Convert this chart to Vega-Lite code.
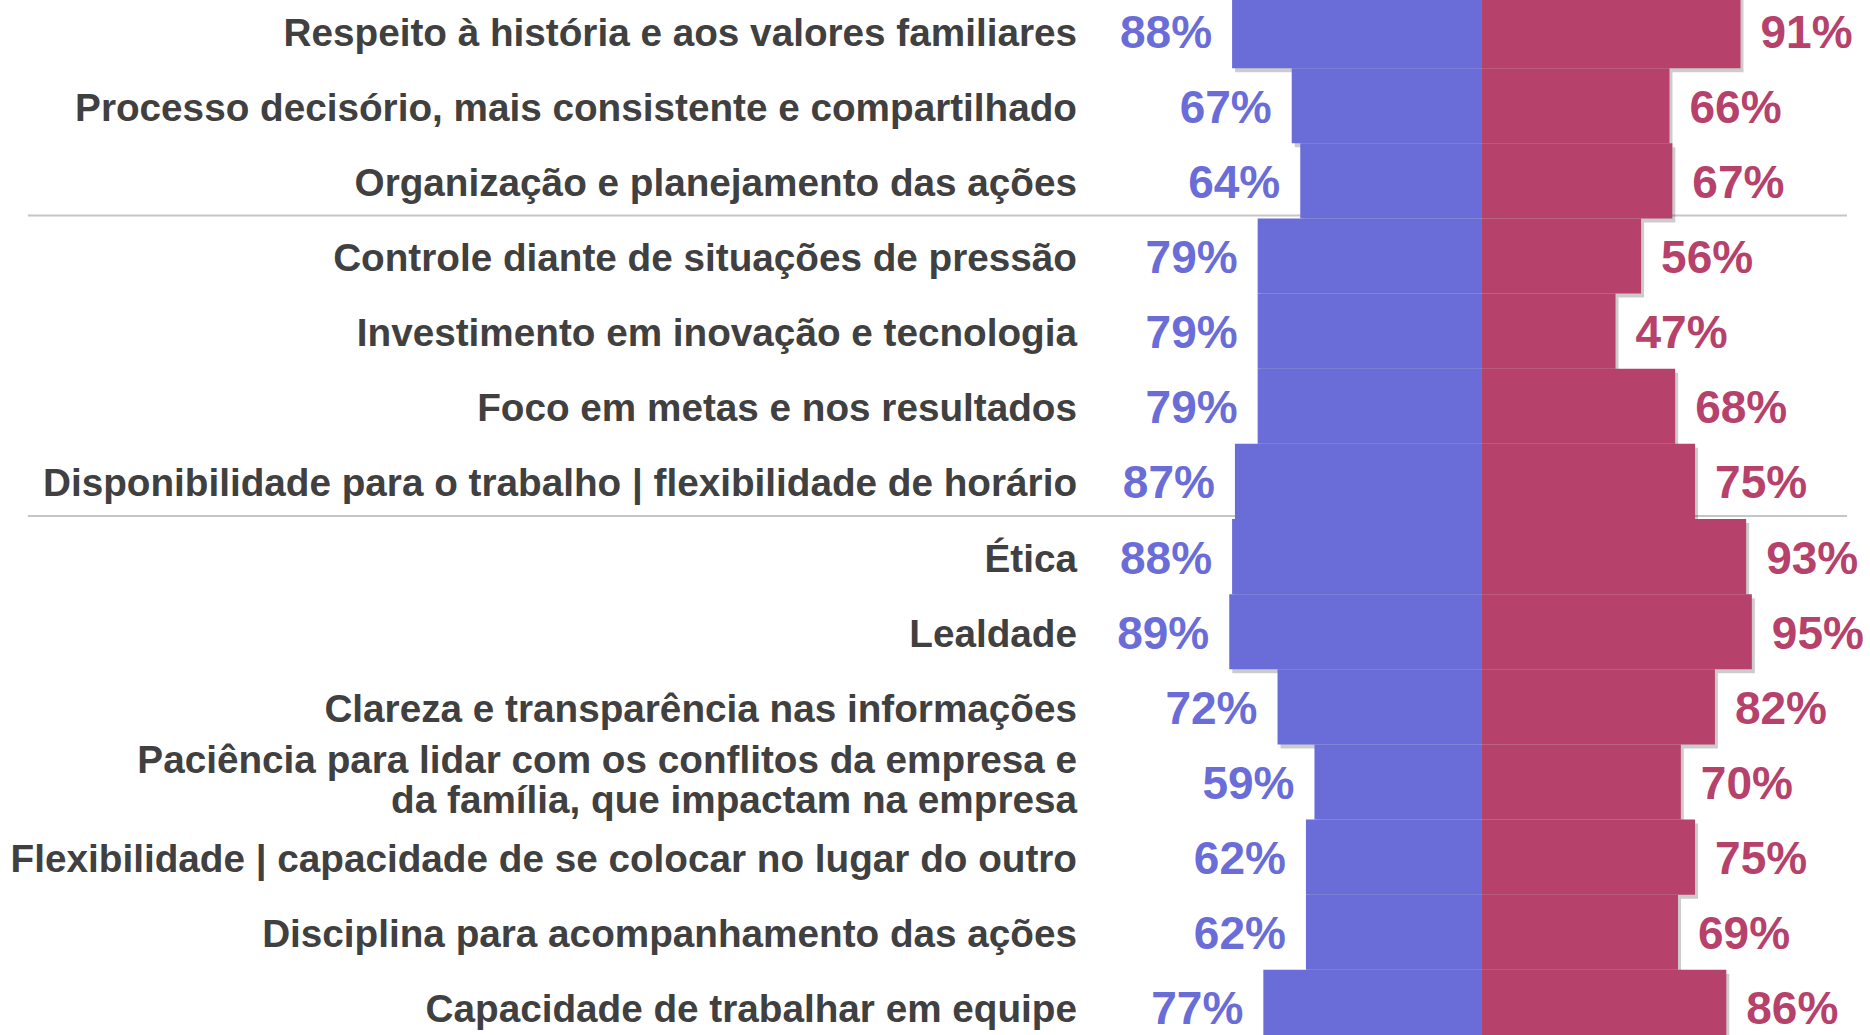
{
  "$schema": "https://vega.github.io/schema/vega-lite/v6.json",
  "width": 1870,
  "height": 1035,
  "padding": 0,
  "autosize": {"type": "none"},
  "background": "white",
  "config": {"view": {"stroke": null}},
  "data": {"values": [
    {"n": 1, "rotulo": "Respeito à história e aos valores familiares", "a": 0.88, "b": 0.91, "sep": 0},
    {"n": 2, "rotulo": "Processo decisório, mais consistente e compartilhado", "a": 0.67, "b": 0.66, "sep": 0},
    {"n": 3, "rotulo": "Organização e planejamento das ações", "a": 0.64, "b": 0.67, "sep": 0},
    {"n": 4, "rotulo": "Controle diante de situações de pressão", "a": 0.79, "b": 0.56, "sep": 1},
    {"n": 5, "rotulo": "Investimento em inovação e tecnologia", "a": 0.79, "b": 0.47, "sep": 0},
    {"n": 6, "rotulo": "Foco em metas e nos resultados", "a": 0.79, "b": 0.68, "sep": 0},
    {"n": 7, "rotulo": "Disponibilidade para o trabalho | flexibilidade de horário", "a": 0.87, "b": 0.75, "sep": 0},
    {"n": 8, "rotulo": "Ética", "a": 0.88, "b": 0.93, "sep": 1},
    {"n": 9, "rotulo": "Lealdade", "a": 0.89, "b": 0.95, "sep": 0},
    {"n": 10, "rotulo": "Clareza e transparência nas informações", "a": 0.72, "b": 0.82, "sep": 0},
    {"n": 11, "rotulo": "Paciência para lidar com os conflitos da empresa e\nda família, que impactam na empresa", "a": 0.59, "b": 0.70, "sep": 0},
    {"n": 12, "rotulo": "Flexibilidade | capacidade de se colocar no lugar do outro", "a": 0.62, "b": 0.75, "sep": 0},
    {"n": 13, "rotulo": "Disciplina para acompanhamento das ações", "a": 0.62, "b": 0.69, "sep": 0},
    {"n": 14, "rotulo": "Capacidade de trabalhar em equipe", "a": 0.77, "b": 0.86, "sep": 0}
  ]},
  "encoding": {
    "y": {"field": "n", "type": "ordinal", "axis": null,
          "scale": {"domain": [1, 2, 3, 4, 5, 6, 7, 8, 9, 10, 11, 12, 13, 14], "range": [-7, 1045], "paddingInner": 0, "paddingOuter": 0}}
  },
  "layer": [
    {
      "transform": [{"filter": "datum.sep == 1"}],
      "mark": {"type": "rule", "color": "#c6c6c6", "strokeWidth": 2},
      "encoding": {
        "y": {"field": "n", "type": "ordinal", "bandPosition": 0, "axis": null,
              "scale": {"domain": [1, 2, 3, 4, 5, 6, 7, 8, 9, 10, 11, 12, 13, 14], "range": [-10, 1042], "paddingInner": 0, "paddingOuter": 0}},
        "x": {"datum": -5.12, "type": "quantitative", "scale": {"domain": [-5.218, 1.366]}, "axis": null},
        "x2": {"datum": 1.285}
      }
    },
    {
      "layer": [
        {
          "mark": {"type": "bar", "color": "#000000", "opacity": 0.2},
          "encoding": {
            "x": {"field": "a", "type": "quantitative", "scale": {"domain": [-1.366, 5.218], "reverse": true, "range": [3, 1873]}, "axis": null},
            "x2": {"datum": 0}
          }
        },
        {
          "mark": {"type": "bar", "color": "#000000", "opacity": 0.2},
          "encoding": {
            "x": {"field": "b", "type": "quantitative", "scale": {"domain": [-5.218, 1.366], "range": [3, 1873]}, "axis": null},
            "x2": {"datum": 0}
          }
        }
      ],
      "encoding": {
        "y": {"field": "n", "type": "ordinal", "axis": null,
              "scale": {"domain": [1, 2, 3, 4, 5, 6, 7, 8, 9, 10, 11, 12, 13, 14], "range": [-3, 1049], "paddingInner": 0, "paddingOuter": 0}}
      },
      "resolve": {"scale": {"x": "independent"}}
    },
    {
      "layer": [
        {
          "mark": {"type": "bar", "color": "#6a6dd8"},
          "encoding": {
            "x": {"field": "a", "type": "quantitative", "scale": {"domain": [-1.366, 5.218], "reverse": true}, "axis": null},
            "x2": {"datum": 0}
          }
        },
        {
          "mark": {"type": "text", "align": "right", "baseline": "middle", "dx": -20, "dy": 3, "font": "Liberation Sans", "fontWeight": "bold", "fontSize": 46, "color": "#6a6dd8"},
          "encoding": {
            "x": {"field": "a", "type": "quantitative", "scale": {"domain": [-1.366, 5.218], "reverse": true}, "axis": null},
            "text": {"field": "a", "type": "quantitative", "format": ".0%"}
          }
        }
      ]
    },
    {
      "layer": [
        {
          "mark": {"type": "bar", "color": "#b6416b"},
          "encoding": {
            "x": {"field": "b", "type": "quantitative", "scale": {"domain": [-5.218, 1.366]}, "axis": null},
            "x2": {"datum": 0}
          }
        },
        {
          "mark": {"type": "text", "align": "left", "baseline": "middle", "dx": 20, "dy": 3, "font": "Liberation Sans", "fontWeight": "bold", "fontSize": 46, "color": "#b6416b"},
          "encoding": {
            "x": {"field": "b", "type": "quantitative", "scale": {"domain": [-5.218, 1.366]}, "axis": null},
            "text": {"field": "b", "type": "quantitative", "format": ".0%"}
          }
        },
        {
          "transform": [{"filter": "datum.n != 11"}],
          "mark": {"type": "text", "align": "right", "baseline": "middle", "dy": 3, "font": "Liberation Sans", "fontWeight": "bold", "fontSize": 38.7, "color": "#404040"},
          "encoding": {
            "x": {"datum": -1.426, "type": "quantitative", "scale": {"domain": [-5.218, 1.366]}, "axis": null},
            "text": {"field": "rotulo", "type": "nominal"}
          }
        },
        {
          "transform": [{"filter": "datum.n == 11"}],
          "mark": {"type": "text", "align": "right", "baseline": "middle", "dy": -21, "font": "Liberation Sans", "fontWeight": "bold", "fontSize": 38.7, "lineBreak": "\n", "lineHeight": 40, "color": "#404040"},
          "encoding": {
            "x": {"datum": -1.426, "type": "quantitative", "scale": {"domain": [-5.218, 1.366]}, "axis": null},
            "text": {"field": "rotulo", "type": "nominal"}
          }
        }
      ]
    }
  ],
  "resolve": {"scale": {"x": "independent", "y": "independent"}}
}
